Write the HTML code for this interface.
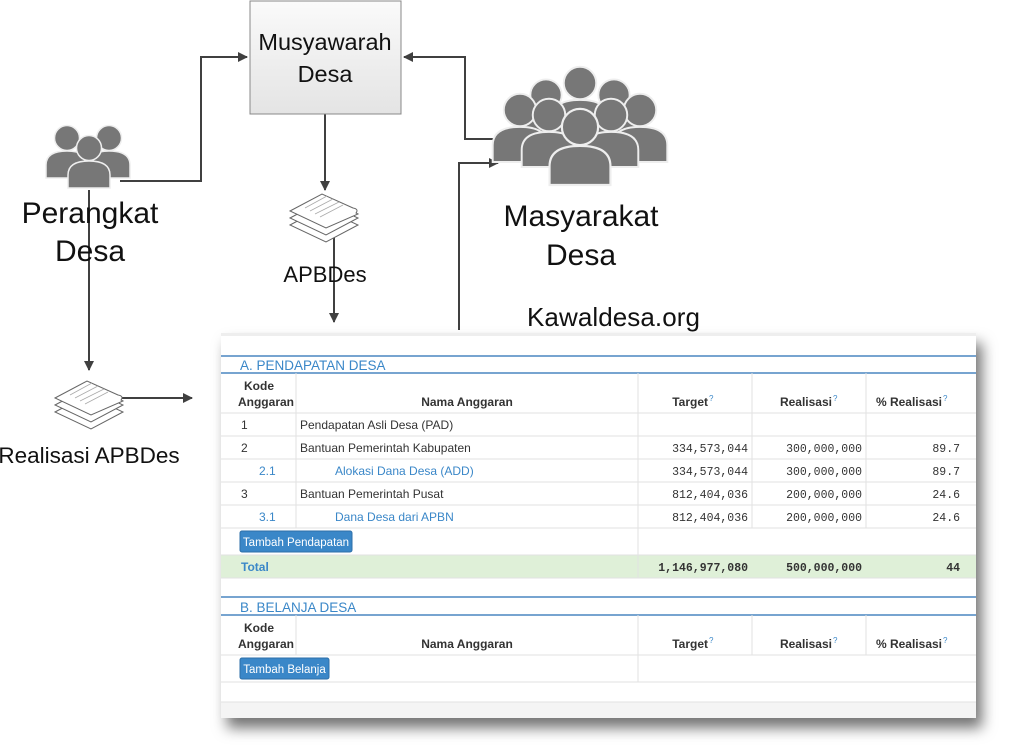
<!DOCTYPE html>
<html><head><meta charset="utf-8"><style>
html,body{margin:0;padding:0;background:#fff;}
svg{display:block;font-family:"Liberation Sans",sans-serif;}
.t{font-size:12px;fill:#333;}
.m{font-family:"Liberation Mono",monospace;font-size:11.5px;fill:#333;}
.b{fill:#3a87c8;}
</style></head><body>
<svg width="1033" height="745" viewBox="0 0 1033 745" xmlns="http://www.w3.org/2000/svg">
<defs>
<marker id="ar" markerWidth="10" markerHeight="10" refX="9" refY="5" orient="auto" markerUnits="userSpaceOnUse">
<path d="M0,0 L10,5 L0,10 z" fill="#404040"/></marker>
<g id="p"><path d="M-21,40 L-21,27 Q-21,13 0,13 Q21,13 21,27 L21,40 Z" fill="#777" stroke="#eee" stroke-width="1.5"/><circle cx="0" cy="0" r="12.5" fill="#777" stroke="#eee" stroke-width="1.5"/></g>
<g id="doc">
<path d="M-35,20 L-3,3 L33,20 L1,37 Z" fill="#fff" stroke="#666" stroke-width="1"/>
<path d="M-35,13 L-3,-4 L33,13 L1,30 Z" fill="#fff" stroke="#666" stroke-width="1"/>
<path d="M-35,6 L-3,-11 L28,3 Q34,4 31,8 L33,9 L1,23 Z" fill="#fff" stroke="#666" stroke-width="1"/>
<path d="M-20,3 L2,-9 M-15,6 L8,-6 M-10,9 L14,-3 M-5,12 L18,0" stroke="#aaa" stroke-width="0.8"/>
</g>
<linearGradient id="bx" x1="0" y1="0" x2="0" y2="1"><stop offset="0" stop-color="#fafafa"/><stop offset="1" stop-color="#e4e4e4"/></linearGradient>
<filter id="sh" x="-5%" y="-5%" width="115%" height="120%"><feDropShadow dx="6" dy="10" stdDeviation="7" flood-color="#000" flood-opacity="0.55"/></filter>
</defs>

<g stroke="#404040" stroke-width="2" fill="none">
<polyline points="120,181 201,181 201,57 247,57" marker-end="url(#ar)"/>
<polyline points="500,139 465,139 465,57 404,57" marker-end="url(#ar)"/>
<line x1="325" y1="114" x2="325" y2="190" marker-end="url(#ar)"/>
<line x1="334" y1="237" x2="334" y2="322" marker-end="url(#ar)"/>
<line x1="89" y1="190" x2="89" y2="370" marker-end="url(#ar)"/>
<line x1="120" y1="398" x2="192" y2="398" marker-end="url(#ar)"/>
<polyline points="459,330 459,163 498,163" marker-end="url(#ar)"/>
</g>

<rect x="250" y="1" width="151" height="113" fill="url(#bx)" stroke="#888" stroke-width="1"/>
<text x="325" y="50" font-size="23.5" text-anchor="middle" fill="#111">Musyawarah</text>
<text x="325" y="82" font-size="23.5" text-anchor="middle" fill="#111">Desa</text>

<use href="#p" transform="translate(67,138)"/>
<use href="#p" transform="translate(109,138)"/>
<use href="#p" transform="translate(89,148)"/>
<text x="90" y="223" font-size="30" text-anchor="middle" fill="#111">Perangkat</text>
<text x="90" y="261" font-size="30" text-anchor="middle" fill="#111">Desa</text>

<use href="#doc" transform="translate(325,205)"/>
<text x="325" y="282" font-size="22" text-anchor="middle" fill="#111">APBDes</text>

<use href="#doc" transform="translate(90,392)"/>
<text x="89" y="463" font-size="22.5" text-anchor="middle" fill="#111">Realisasi APBDes</text>

<g>
<use href="#p" transform="translate(546,95) scale(1.25)"/>
<use href="#p" transform="translate(614,95) scale(1.25)"/>
<use href="#p" transform="translate(580,83) scale(1.3)"/>
<use href="#p" transform="translate(520,110) scale(1.3)"/>
<use href="#p" transform="translate(640,110) scale(1.3)"/>
<use href="#p" transform="translate(549,115) scale(1.3)"/>
<use href="#p" transform="translate(611,115) scale(1.3)"/>
<use href="#p" transform="translate(580,127) scale(1.45)"/>
</g>
<text x="581" y="226" font-size="30" text-anchor="middle" fill="#111" textLength="155">Masyarakat</text>
<text x="581" y="265" font-size="30" text-anchor="middle" fill="#111">Desa</text>
<text x="527" y="326" font-size="26" fill="#111" textLength="173">Kawaldesa.org</text>

<g filter="url(#sh)"><rect x="221" y="333" width="755" height="385" fill="#fff"/></g>
<rect x="221" y="333" width="755" height="3" fill="#eee"/>
<g stroke="#4a86c0" stroke-width="1.5">
<line x1="221" y1="356" x2="976" y2="356"/><line x1="221" y1="373" x2="976" y2="373"/>
<line x1="221" y1="597" x2="976" y2="597"/><line x1="221" y1="615" x2="976" y2="615"/>
</g>
<text x="240" y="370" font-size="13.5" class="b">A. PENDAPATAN DESA</text>
<text x="240" y="612" font-size="13.5" class="b">B. BELANJA DESA</text>

<rect x="221" y="555" width="755" height="23" fill="#dff0d8"/>
<rect x="221" y="702" width="755" height="16" fill="#f4f4f4"/>
<g stroke="#e2e2e2" stroke-width="1">
<line x1="221" y1="413" x2="976" y2="413"/><line x1="221" y1="436" x2="976" y2="436"/>
<line x1="221" y1="459" x2="976" y2="459"/><line x1="221" y1="482" x2="976" y2="482"/>
<line x1="221" y1="505" x2="976" y2="505"/><line x1="221" y1="528" x2="976" y2="528"/>
<line x1="221" y1="555" x2="976" y2="555"/><line x1="221" y1="578" x2="976" y2="578"/>
<line x1="221" y1="655" x2="976" y2="655"/><line x1="221" y1="682" x2="976" y2="682"/>
<line x1="221" y1="702" x2="976" y2="702"/>
<line x1="296" y1="373" x2="296" y2="528"/><line x1="638" y1="373" x2="638" y2="578"/>
<line x1="752" y1="373" x2="752" y2="528"/><line x1="866" y1="373" x2="866" y2="528"/>
<line x1="296" y1="615" x2="296" y2="655"/><line x1="638" y1="615" x2="638" y2="682"/>
<line x1="752" y1="615" x2="752" y2="655"/><line x1="866" y1="615" x2="866" y2="655"/>
</g>
<g>
<text x="259" y="390" text-anchor="middle" class="t" font-weight="bold">Kode</text>
<text x="266" y="406" text-anchor="middle" class="t" font-weight="bold">Anggaran</text>
<text x="467" y="406" text-anchor="middle" class="t" font-weight="bold">Nama Anggaran</text>
<text x="708" y="406" text-anchor="end" class="t" font-weight="bold">Target</text>
<text x="832" y="406" text-anchor="end" class="t" font-weight="bold">Realisasi</text>
<text x="942" y="406" text-anchor="end" class="t" font-weight="bold">% Realisasi</text>
<text x="259" y="632" text-anchor="middle" class="t" font-weight="bold">Kode</text>
<text x="266" y="648" text-anchor="middle" class="t" font-weight="bold">Anggaran</text>
<text x="467" y="648" text-anchor="middle" class="t" font-weight="bold">Nama Anggaran</text>
<text x="708" y="648" text-anchor="end" class="t" font-weight="bold">Target</text>
<text x="832" y="648" text-anchor="end" class="t" font-weight="bold">Realisasi</text>
<text x="942" y="648" text-anchor="end" class="t" font-weight="bold">% Realisasi</text>
</g>
<g font-size="8" class="b"><text x="709" y="401">?</text><text x="833" y="401">?</text><text x="943" y="401">?</text>
<text x="709" y="643">?</text><text x="833" y="643">?</text><text x="943" y="643">?</text></g>

<text x="241" y="429" class="t">1</text><text x="300" y="429" class="t">Pendapatan Asli Desa (PAD)</text>
<text x="241" y="452" class="t">2</text><text x="300" y="452" class="t">Bantuan Pemerintah Kabupaten</text>
<text x="259" y="475" font-size="12" class="b">2.1</text><text x="335" y="475" font-size="12" class="b">Alokasi Dana Desa (ADD)</text>
<text x="241" y="498" class="t">3</text><text x="300" y="498" class="t">Bantuan Pemerintah Pusat</text>
<text x="259" y="521" font-size="12" class="b">3.1</text><text x="335" y="521" font-size="12" class="b">Dana Desa dari APBN</text>

<g>
<text x="748" y="452" text-anchor="end" class="m">334,573,044</text><text x="862" y="452" text-anchor="end" class="m">300,000,000</text><text x="960" y="452" text-anchor="end" class="m">89.7</text>
<text x="748" y="475" text-anchor="end" class="m">334,573,044</text><text x="862" y="475" text-anchor="end" class="m">300,000,000</text><text x="960" y="475" text-anchor="end" class="m">89.7</text>
<text x="748" y="498" text-anchor="end" class="m">812,404,036</text><text x="862" y="498" text-anchor="end" class="m">200,000,000</text><text x="960" y="498" text-anchor="end" class="m">24.6</text>
<text x="748" y="521" text-anchor="end" class="m">812,404,036</text><text x="862" y="521" text-anchor="end" class="m">200,000,000</text><text x="960" y="521" text-anchor="end" class="m">24.6</text>
<text x="748" y="571" text-anchor="end" class="m" font-weight="bold">1,146,977,080</text><text x="862" y="571" text-anchor="end" class="m" font-weight="bold">500,000,000</text><text x="960" y="571" text-anchor="end" class="m" font-weight="bold">44</text>
</g>
<text x="241" y="571" font-size="12" font-weight="bold" class="b">Total</text>

<rect x="240" y="531" width="112" height="21" rx="2" fill="#3a87c8" stroke="#2d6fa8"/>
<text x="296" y="546" font-size="11.5" text-anchor="middle" fill="#fff">Tambah Pendapatan</text>
<rect x="240" y="658" width="89" height="21" rx="2" fill="#3a87c8" stroke="#2d6fa8"/>
<text x="284.5" y="673" font-size="11.5" text-anchor="middle" fill="#fff">Tambah Belanja</text>
</svg>
</body></html>
